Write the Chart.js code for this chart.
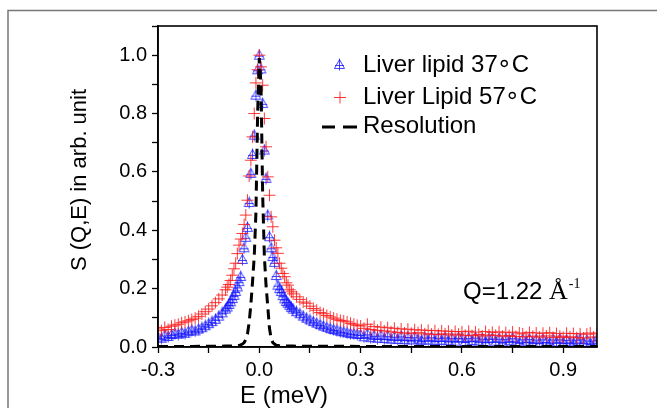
<!DOCTYPE html>
<html>
<head>
<meta charset="utf-8">
<script src="https://cdn.jsdelivr.net/npm/chart.js@4"></script>
<style>
  body { margin: 0; background: #fff; }
  canvas { display: block; }
</style>
</head>
<body>
<canvas id="graf" width="657" height="408"></canvas>
<script>
// E grid (meV), finer around the elastic peak
const energy = [
  -0.30, -0.29, -0.28, -0.27, -0.26, -0.25, -0.24, -0.23, -0.22, -0.21,
  -0.20, -0.19, -0.18, -0.17, -0.16, -0.15, -0.14, -0.13, -0.12, -0.11,
  -0.100, -0.095, -0.090, -0.085, -0.080, -0.075, -0.070, -0.065, -0.060, -0.055,
  -0.050, -0.045, -0.040, -0.035, -0.030, -0.025, -0.020, -0.015, -0.010, -0.005,
  0.000, 0.005, 0.010, 0.015, 0.020, 0.025, 0.030, 0.035, 0.040, 0.045,
  0.050, 0.055, 0.060, 0.065, 0.070, 0.075, 0.080, 0.085, 0.090, 0.095,
  0.10, 0.11, 0.12, 0.13, 0.14, 0.15, 0.16, 0.17, 0.18, 0.19,
  0.20, 0.21, 0.22, 0.23, 0.24, 0.25, 0.26, 0.27, 0.28, 0.29,
  0.30, 0.31, 0.32, 0.33, 0.34, 0.35, 0.36, 0.37, 0.38, 0.39,
  0.40, 0.41, 0.42, 0.43, 0.44, 0.45, 0.46, 0.47, 0.48, 0.49,
  0.50, 0.51, 0.52, 0.53, 0.54, 0.55, 0.56, 0.57, 0.58, 0.59,
  0.60, 0.61, 0.62, 0.63, 0.64, 0.65, 0.66, 0.67, 0.68, 0.69,
  0.70, 0.71, 0.72, 0.73, 0.74, 0.75, 0.76, 0.77, 0.78, 0.79,
  0.80, 0.81, 0.82, 0.83, 0.84, 0.85, 0.86, 0.87, 0.88, 0.89,
  0.90, 0.91, 0.92, 0.93, 0.94, 0.95, 0.96, 0.97, 0.98, 0.99, 1.00
];

// Liver lipid 37°C
const lipid37 = [
  0.034, 0.030, 0.041, 0.036, 0.043, 0.047, 0.044, 0.050, 0.047, 0.054,
  0.058, 0.055, 0.062, 0.066, 0.073, 0.080, 0.087, 0.095, 0.106, 0.117,
  0.130, 0.137, 0.146, 0.155, 0.166, 0.177, 0.190, 0.206, 0.224, 0.242,
  0.300, 0.340, 0.376, 0.410, 0.495, 0.595, 0.660, 0.726, 0.863, 0.950,
  1.000, 0.953, 0.835, 0.675, 0.578, 0.452, 0.378, 0.340, 0.310, 0.290,
  0.245, 0.212, 0.200, 0.190, 0.176, 0.165, 0.156, 0.150, 0.143, 0.136,
  0.130, 0.121, 0.114, 0.106, 0.099, 0.093, 0.087, 0.082, 0.077, 0.072,
  0.068, 0.064, 0.060, 0.058, 0.054, 0.052, 0.049, 0.047, 0.045, 0.044,
  0.043, 0.035, 0.045, 0.032, 0.040, 0.030, 0.041, 0.029, 0.039, 0.027,
  0.037, 0.026, 0.038, 0.025, 0.036, 0.024, 0.035, 0.027, 0.023, 0.034,
  0.024, 0.035, 0.022, 0.033, 0.023, 0.034, 0.021, 0.032, 0.020, 0.033,
  0.031, 0.019, 0.032, 0.022, 0.034, 0.020, 0.030, 0.018, 0.029, 0.031,
  0.020, 0.030, 0.017, 0.029, 0.021, 0.032, 0.019, 0.016, 0.028, 0.020,
  0.029, 0.016, 0.027, 0.015, 0.028, 0.019, 0.014, 0.027, 0.017, 0.028,
  0.015, 0.026, 0.018, 0.014, 0.025, 0.028, 0.016, 0.024, 0.013, 0.021, 0.026
];

// Liver Lipid 57°C
const lipid57 = [
  0.062, 0.056, 0.067, 0.060, 0.071, 0.075, 0.078, 0.083, 0.086, 0.090,
  0.094, 0.099, 0.105, 0.113, 0.121, 0.130, 0.141, 0.152, 0.165, 0.178,
  0.196, 0.205, 0.214, 0.228, 0.246, 0.268, 0.287, 0.320, 0.349, 0.370,
  0.389, 0.420, 0.452, 0.503, 0.586, 0.640, 0.720, 0.800, 0.905, 0.950,
  1.000, 0.960, 0.897, 0.783, 0.686, 0.583, 0.520, 0.446, 0.412, 0.366,
  0.340, 0.321, 0.287, 0.270, 0.252, 0.241, 0.220, 0.212, 0.196, 0.189,
  0.182, 0.172, 0.163, 0.154, 0.150, 0.140, 0.132, 0.126, 0.118, 0.114,
  0.108, 0.103, 0.099, 0.095, 0.091, 0.089, 0.086, 0.081, 0.078, 0.074,
  0.072, 0.064, 0.078, 0.060, 0.070, 0.057, 0.068, 0.055, 0.066, 0.052,
  0.064, 0.050, 0.062, 0.048, 0.061, 0.047, 0.059, 0.049, 0.058, 0.045,
  0.057, 0.044, 0.056, 0.043, 0.055, 0.045, 0.054, 0.041, 0.053, 0.044,
  0.052, 0.040, 0.054, 0.039, 0.051, 0.043, 0.038, 0.053, 0.041, 0.050,
  0.040, 0.052, 0.037, 0.049, 0.039, 0.051, 0.036, 0.048, 0.045, 0.035,
  0.050, 0.037, 0.048, 0.034, 0.047, 0.038, 0.049, 0.033, 0.046, 0.037,
  0.033, 0.047, 0.035, 0.046, 0.032, 0.045, 0.031, 0.044, 0.048, 0.034, 0.045
];

// instrument resolution
const resEnergy = [
  -0.30, -0.20, -0.10, -0.07, -0.06, -0.05, -0.045, -0.04, -0.035, -0.03,
  -0.025, -0.02, -0.015, -0.01, -0.005, 0.0, 0.005, 0.01, 0.015, 0.02,
  0.025, 0.03, 0.035, 0.04, 0.045, 0.05, 0.06, 0.07, 0.10, 0.30, 0.60, 1.00
];
const resValues = [
  0.002, 0.002, 0.003, 0.004, 0.005, 0.010, 0.015, 0.025, 0.045, 0.085,
  0.145, 0.225, 0.310, 0.460, 0.800, 0.990, 0.900, 0.520, 0.310, 0.210,
  0.140, 0.065, 0.030, 0.015, 0.010, 0.006, 0.004, 0.003, 0.003, 0.002, 0.002, 0.002
];

const xTickLabels = ["-0.3", "0.0", "0.3", "0.6", "0.9"];
const yTickLabels = ["0.0", "0.2", "0.4", "0.6", "0.8", "1.0"];

const FONT = "'Liberation Sans', Arial, sans-serif";
const SERIF = "'Liberation Serif', 'Times New Roman', serif";
const BLUE = "rgba(25,25,255,0.8)";
const RED = "rgba(255,20,20,0.85)";

// triangle with a plus inside, like the Origin symbol
function triSymbol() {
  const c = document.createElement("canvas");
  c.width = 13; c.height = 13;
  const g = c.getContext("2d");
  g.strokeStyle = BLUE;
  g.lineWidth = 1;
  g.beginPath();
  g.moveTo(6.5, 1.5); g.lineTo(1.5, 10.5); g.lineTo(11.5, 10.5); g.closePath();
  g.moveTo(6.5, 0.5); g.lineTo(6.5, 12.5);
  g.moveTo(2, 7.5); g.lineTo(11, 7.5);
  g.stroke();
  return c;
}
const tri = triSymbol();

function near(v, step) {
  return Math.abs(v / step - Math.round(v / step)) < 1e-6;
}

// "Liver lipid 37" + ring + "C", ring kept tight like the original
function degText(ctx, head, x, y) {
  ctx.font = "24px " + FONT;
  ctx.textAlign = "left";
  ctx.fillText(head, x, y);
  const w = ctx.measureText(head).width;
  ctx.textAlign = "center";
  ctx.font = "24px 'DejaVu Sans', sans-serif";
  ctx.fillText("\u2218", x + w + 6.5, y);
  ctx.textAlign = "left";
  ctx.font = "24px " + FONT;
  ctx.fillText("C", x + w + 14, y);
}

const decor = {
  id: "decor",
  beforeDraw(chart) {
    const ctx = chart.ctx;
    ctx.save();
    ctx.strokeStyle = "#777";
    ctx.lineWidth = 1.5;
    ctx.beginPath();
    ctx.moveTo(8, 410); ctx.lineTo(8, 10.5); ctx.lineTo(657, 10.5);
    ctx.stroke();
    ctx.restore();
  },
  afterDraw(chart) {
    const ctx = chart.ctx;
    const a = chart.chartArea;
    ctx.save();
    // plot frame
    ctx.strokeStyle = "#000";
    ctx.lineWidth = 1.6;
    ctx.strokeRect(a.left, a.top, a.right - a.left, a.bottom - a.top);

    // legend
    ctx.fillStyle = "#000";
    ctx.textBaseline = "middle";
    ctx.drawImage(tri, 333, 58);
    degText(ctx, "Liver lipid 37", 363, 65);
    ctx.strokeStyle = RED;
    ctx.lineWidth = 1;
    ctx.beginPath();
    ctx.moveTo(334, 97.5); ctx.lineTo(346, 97.5);
    ctx.moveTo(340, 91.5); ctx.lineTo(340, 103.5);
    ctx.stroke();
    degText(ctx, "Liver Lipid 57", 363, 97);
    ctx.strokeStyle = "#000";
    ctx.lineWidth = 3;
    ctx.beginPath();
    ctx.moveTo(322, 127); ctx.lineTo(335, 127);
    ctx.moveTo(343, 127); ctx.lineTo(357, 127);
    ctx.stroke();
    ctx.font = "24px " + FONT;
    ctx.textAlign = "left";
    ctx.fillText("Resolution", 363, 126);

    // Q annotation
    ctx.textBaseline = "alphabetic";
    ctx.font = "24px " + FONT;
    const q = "Q=1.22 ";
    ctx.fillText(q, 463, 299);
    let x = 463 + ctx.measureText(q).width;
    ctx.font = "26px " + SERIF;
    ctx.fillText("\u00C5", x, 299);
    x += ctx.measureText("\u00C5").width + 1;
    ctx.font = "14px " + SERIF;
    ctx.fillText("-1", x, 288);

    // axis titles
    ctx.font = "24px " + FONT;
    ctx.textAlign = "center";
    ctx.textBaseline = "middle";
    ctx.fillText("E (meV)", 284, 396);
    ctx.translate(80, 180);
    ctx.rotate(-Math.PI / 2);
    ctx.font = "22px " + FONT;
    ctx.fillText("S (Q,E) in arb. unit", 0, 0);
    ctx.restore();
  }
};

new Chart(document.getElementById("graf"), {
  type: "scatter",
  data: {
    datasets: [
      {
        label: "Resolution",
        type: "line",
        data: resEnergy.map((e, i) => ({ x: e, y: resValues[i] })),
        borderColor: "#000",
        borderWidth: 3,
        borderDash: [10, 6],
        pointRadius: 0,
        fill: false,
        tension: 0,
        order: 0
      },
      {
        label: "Liver Lipid 57\u2218C",
        data: energy.map((e, i) => ({ x: e, y: lipid57[i] })),
        pointStyle: "cross",
        pointRadius: 6,
        borderColor: RED,
        borderWidth: 1,
        order: 1
      },
      {
        label: "Liver lipid 37\u2218C",
        data: energy.map((e, i) => ({ x: e, y: lipid37[i] })),
        pointStyle: tri,
        pointRadius: 6,
        borderColor: BLUE,
        order: 2
      }
    ]
  },
  options: {
    responsive: false,
    animation: false,
    layout: { padding: { top: 26, right: 60, left: 0, bottom: 0 } },
    plugins: { legend: { display: false }, tooltip: { enabled: false } },
    scales: {
      x: {
        type: "linear",
        min: -0.3,
        max: 1.0,
        afterFit(s) { s.height = 61; },
        ticks: {
          stepSize: 0.15,
          includeBounds: false,
          autoSkip: false,
          maxRotation: 0,
          padding: 5,
          color: "#000",
          font: { size: 20, family: FONT },
          callback: v => near(v, 0.3) ? xTickLabels[Math.round((v + 0.3) / 0.3)] : ""
        },
        grid: { drawOnChartArea: false, drawTicks: true, tickLength: 6, color: "#000", tickWidth: 1.3 },
        border: { display: true, color: "#000", width: 1.6 }
      },
      y: {
        min: 0,
        max: 1.1,
        afterFit(s) { s.width = 158; },
        ticks: {
          stepSize: 0.1,
          autoSkip: false,
          padding: 5,
          color: "#000",
          font: { size: 20, family: FONT },
          callback: v => (near(v, 0.2) && v < 1.05) ? yTickLabels[Math.round(v / 0.2)] : ""
        },
        grid: { drawOnChartArea: false, drawTicks: true, tickLength: 6, color: "#000", tickWidth: 1.3 },
        border: { display: true, color: "#000", width: 1.6 }
      }
    }
  },
  plugins: [decor]
});
</script>
</body>
</html>
